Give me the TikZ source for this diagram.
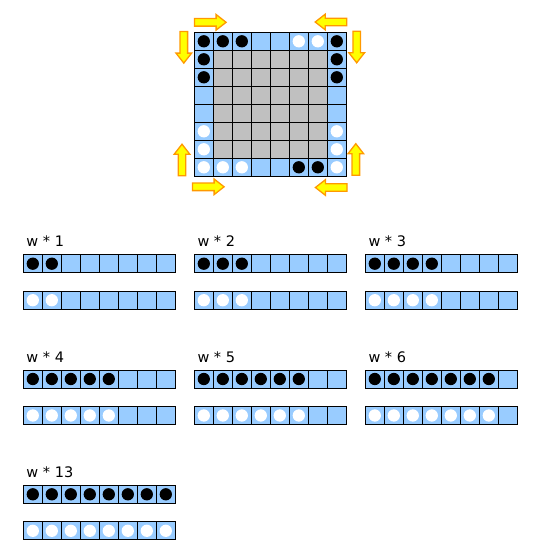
\documentclass[tikz,border=0pt]{standalone}
\usepackage{fontspec}
\setmainfont{DejaVu Sans}
\definecolor{cellblue}{HTML}{99CCFF}
\definecolor{cellgray}{HTML}{C0C0C0}
\definecolor{arrowedge}{HTML}{FF9900}
\definecolor{arrowfill}{HTML}{FFFF00}
\tikzset{
  pics/harrow/.style={code={\path[arr] (-15.8,-3.8) -- (5.8,-3.8) -- (5.8,-7.8) -- (15.8,0) -- (5.8,7.8) -- (5.8,3.8) -- (-15.8,3.8) -- cycle;}},
  pics/varrow/.style={code={\path[arr] (-3.8,-15.8) -- (-3.8,5.8) -- (-7.8,5.8) -- (0,15.8) -- (7.8,5.8) -- (3.8,5.8) -- (3.8,-15.8) -- cycle;}}
}
\begin{document}
\begin{tikzpicture}[x=1pt,y=-1pt,
  cell/.style={draw=black, line width=1pt, minimum width=19pt, minimum height=18pt, inner sep=0pt, outer sep=0pt, anchor=north west},
  edgecell/.style={cell, fill=cellblue},
  midcell/.style={cell, fill=cellgray},
  blackdisc/.style={circle, fill=black, minimum size=12.3pt, inner sep=0pt},
  whitedisc/.style={circle, fill=white, minimum size=12.3pt, inner sep=0pt},
  lbl/.style={anchor=base west, inner sep=0pt, font=\fontsize{14.5}{17}\selectfont},
  arr/.style={fill=arrowfill, draw=arrowedge, line width=1.3pt, line join=miter}]
\useasboundingbox (0,0) rectangle (534,555);
% board
\foreach \r in {0,...,7} {
  \foreach \c in {0,...,7} {
    \pgfmathtruncatemacro\isedge{(\r==0)||(\r==7)||(\c==0)||(\c==7)}
    \ifnum\isedge=1
      \node[edgecell] (b\r\c) at ({194.3+19*\c},{32.3+18*\r}) {};
    \else
      \node[midcell] (b\r\c) at ({194.3+19*\c},{32.3+18*\r}) {};
    \fi
  }
}
\foreach \r/\c in {0/0,0/1,0/2,0/7,1/0,1/7,2/0,2/7,7/5,7/6}
  \node[blackdisc] (bd\r\c) at (b\r\c.center) {};
\foreach \r/\c in {0/5,0/6,5/0,5/7,6/0,6/7,7/0,7/1,7/2,7/7}
  \node[whitedisc] (wd\r\c) at (b\r\c.center) {};
% arrows
\pic at (210.3,22.3) {harrow};
\pic[xscale=-1] at (331,22) {harrow};
\pic at (208.3,186.8) {harrow};
\pic[xscale=-1] at (331.2,187.5) {harrow};
\pic at (183.8,47.3) {varrow};
\pic at (356.7,47) {varrow};
\pic[yscale=-1] at (182,160) {varrow};
\pic[yscale=-1] at (355.8,159.5) {varrow};
% strips
\foreach \k/\n/\lab/\col/\row in {1/2/1/0/0, 2/3/2/1/0, 3/4/3/2/0, 4/5/4/0/1, 5/6/5/1/1, 6/7/6/2/1, 7/8/13/0/2} {
  \pgfmathsetmacro\xo{23.3+171*\col}
  \pgfmathsetmacro\yo{254.7+115.3*\row}
  \node[lbl] (lab\k) at ({\xo+3},{\yo-8}) {w * \lab};
  \foreach \c in {0,...,7} {
    \node[edgecell] (s\k a\c) at ({\xo+19*\c},\yo) {};
    \node[edgecell] (s\k b\c) at ({\xo+19*\c},{\yo+36.5}) {};
  }
  \foreach \i in {1,...,\n} {
    \pgfmathtruncatemacro\c{\i-1}
    \node[blackdisc] (s\k bd\c) at (s\k a\c.center) {};
    \node[whitedisc] (s\k wd\c) at (s\k b\c.center) {};
  }
}
\end{tikzpicture}
\end{document}
